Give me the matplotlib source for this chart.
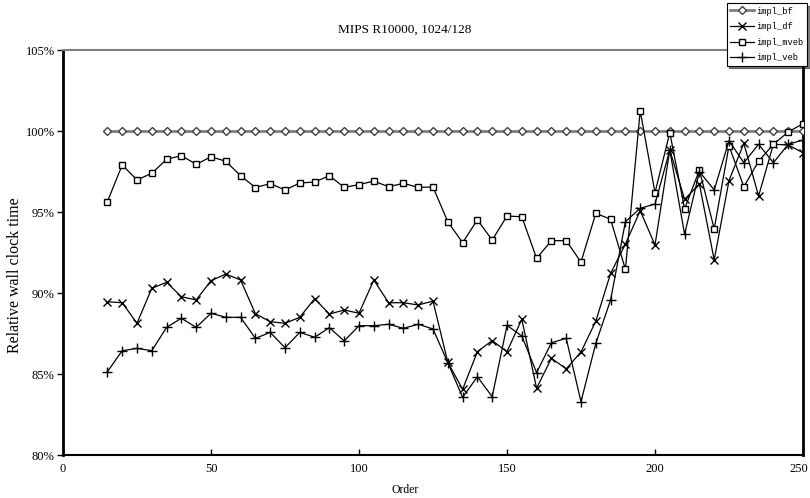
import matplotlib
matplotlib.use("Agg")
import matplotlib.pyplot as plt
import matplotlib.transforms as mtrans
from matplotlib.ticker import FuncFormatter

order = list(range(15, 251, 5))

impl_bf = [100.0] * len(order)

impl_df = [89.46, 89.40, 88.13, 90.29, 90.66, 89.77, 89.57, 90.76, 91.17, 90.80,
           88.72, 88.23, 88.13, 88.50, 89.65, 88.70, 88.95, 88.75, 90.80, 89.40,
           89.40, 89.26, 89.50, 85.73, 84.05, 86.38, 87.06, 86.38, 88.38, 84.12,
           85.97, 85.32, 86.36, 88.26, 91.21, 93.02, 95.08, 92.96, 98.83, 95.78,
           96.73, 92.04, 96.94, 99.24, 95.99, 99.18, 99.14, 98.66]

impl_mveb = [95.64, 97.90, 96.98, 97.39, 98.25, 98.48, 97.94, 98.41, 98.13, 97.24,
             96.51, 96.75, 96.36, 96.79, 96.85, 97.24, 96.52, 96.69, 96.91, 96.56,
             96.77, 96.52, 96.54, 94.40, 93.11, 94.51, 93.27, 94.75, 94.71, 92.14,
             93.23, 93.23, 91.91, 94.92, 94.55, 91.46, 101.25, 96.19, 99.90, 95.19,
             97.59, 93.95, 99.09, 96.56, 98.13, 99.18, 99.94, 100.45]

impl_veb = [85.14, 86.44, 86.58, 86.44, 87.88, 88.44, 87.88, 88.75, 88.50, 88.50,
            87.20, 87.57, 86.62, 87.57, 87.27, 87.86, 87.04, 87.98, 87.98, 88.07,
            87.82, 88.07, 87.78, 85.70, 83.56, 84.83, 83.60, 88.00, 87.35, 85.08,
            86.93, 87.20, 83.29, 86.89, 89.57, 94.40, 95.23, 95.49, 98.83, 93.62,
            97.49, 96.36, 99.40, 98.04, 99.18, 98.04, 99.18, 99.44]

title = "MIPS R10000, 1024/128"
xlabel = "Order"
ylabel = "Relative wall clock time"
xticks = [0, 50, 100, 150, 200, 250]
yticks = [80, 85, 90, 95, 100, 105]

serif = ["Liberation Serif", "DejaVu Serif"]
mono = ["Liberation Mono", "DejaVu Sans Mono"]

fig = plt.figure(figsize=(8.10, 4.98), dpi=100)
ax = fig.add_axes([63/810, 1-455/498, (803-63)/810, (455-50)/498])

ax.plot(order, impl_bf, color="#7f7f7f", lw=2.0, marker="D", ms=3.6,
        mfc="white", mec="#404040", mew=1.0, label="impl_bf", zorder=3)
ax.plot(order, impl_df, color="black", lw=0.9, marker="x", ms=5.2,
        mec="black", mew=1.0, label="impl_df", zorder=4)
ax.plot(order, impl_mveb, color="black", lw=0.9, marker="s", ms=5.0,
        mfc="white", mec="black", mew=1.0, label="impl_mveb", zorder=5)
ax.plot(order, impl_veb, color="black", lw=0.9, marker="+", ms=6.5,
        mec="black", mew=1.0, label="impl_veb", zorder=6)

ax.set_xlim(0, 250)
ax.set_ylim(80, 105)
ax.set_xticks(xticks)
ax.set_yticks(yticks)
ax.yaxis.set_major_formatter(FuncFormatter(lambda v, p: f"{v:.0f}%"))

for lbl in ax.get_xticklabels() + ax.get_yticklabels():
    lbl.set_fontfamily(serif)
    lbl.set_fontsize(9)

ax.tick_params(axis="y", direction="out", length=4, width=1, pad=2)
ax.tick_params(axis="x", direction="in", length=4, width=1, pad=6)

# keep last x tick label inside the figure
last = ax.get_xticklabels()[-1]
last.set_transform(last.get_transform() + mtrans.ScaledTranslation(-4/100, 0, fig.dpi_scale_trans))

ax.spines["left"].set_linewidth(2.0)
ax.spines["left"].set_color("black")
ax.spines["bottom"].set_linewidth(1.5)
ax.spines["bottom"].set_color("black")
ax.spines["top"].set_linewidth(1.5)
ax.spines["top"].set_color("#7f7f7f")
ax.spines["right"].set_linewidth(2.0)
ax.spines["right"].set_color("black")

fig.text(405/810, 1-30/498, title, family=serif, fontsize=9.5, ha="center", va="center")
fig.text(405/810, 1-490/498, xlabel, family=serif, fontsize=8.5, ha="center", va="center")
fig.text(15/810, 1-275/498, ylabel, family=serif, fontsize=11.5, ha="center", va="center", rotation=90)

leg = ax.legend(loc="upper right", bbox_to_anchor=(807/810, 1-3/498),
                bbox_transform=fig.transFigure, prop={"family": mono, "size": 6.3},
                frameon=True, fancybox=False, shadow={"color": "black"},
                handlelength=2.7, handletextpad=0.3, borderpad=0.4,
                labelspacing=0.75, borderaxespad=0)
leg.get_frame().set_edgecolor("black")
leg.get_frame().set_linewidth(0.8)

fig.savefig("out.png", dpi=100)
